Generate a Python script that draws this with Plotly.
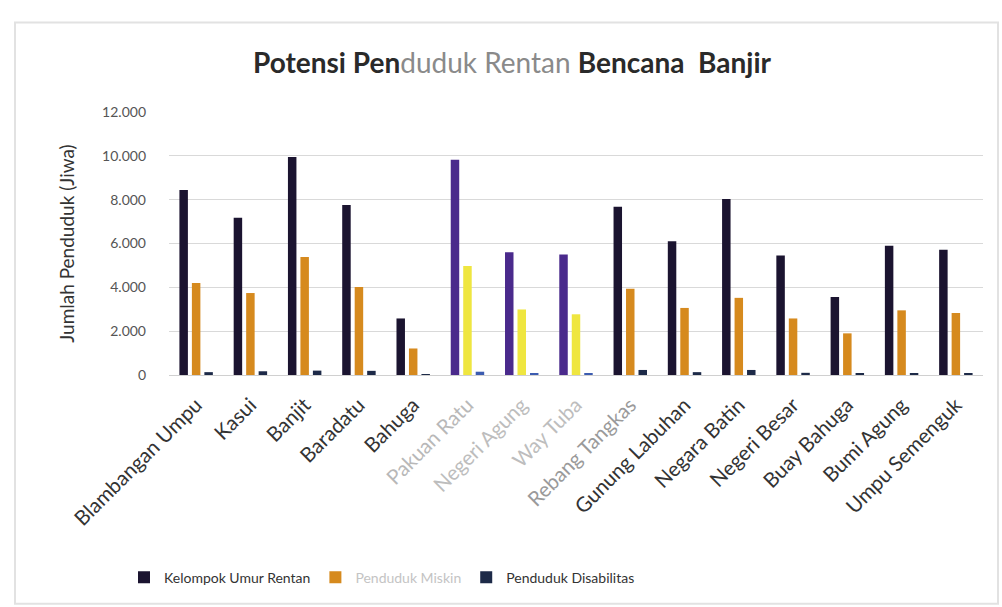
import plotly.graph_objects as go

# Kecamatan (district) names along the x axis
kecamatan = [
    "Blambangan Umpu", "Kasui", "Banjit", "Baradatu", "Bahuga",
    "Pakuan Ratu", "Negeri Agung", "Way Tuba", "Rebang Tangkas",
    "Gunung Labuhan", "Negara Batin", "Negeri Besar", "Buay Bahuga",
    "Bumi Agung", "Umpu Semenguk",
]

# Population counts (jiwa) per series
umur_rentan = [8440, 7170, 9950, 7760, 2580, 9820, 5600, 5500, 7680,
               6100, 8030, 5450, 3560, 5900, 5710]
miskin = [4200, 3740, 5380, 4020, 1210, 4970, 2990, 2770, 3940,
          3060, 3520, 2580, 1900, 2950, 2830]
disabilitas = [130, 170, 200, 190, 30, 150, 50, 60, 230,
               130, 230, 100, 80, 90, 70]

# y-axis ticks
y_ticks = [0, 2000, 4000, 6000, 8000, 10000, 12000]

# districts printed in a faded tone
faded = {"Pakuan Ratu": "#b8b8b8", "Negeri Agung": "#bdbdbd",
         "Way Tuba": "#bdbdbd", "Rebang Tangkas": "#9a9a9a"}
tinted = {"Pakuan Ratu", "Negeri Agung", "Way Tuba"}

c_dark = ["#4a2a8c" if k in tinted else "#1b1430" for k in kecamatan]
c_orange = ["#efe640" if k in tinted else "#d68a1e" for k in kecamatan]
c_navy = ["#3c5cb0" if k in tinted else "#1d2a48" for k in kecamatan]

tick_text = [
    f"<span style='color:{faded[k]}'>{k}</span>" if k in faded else k
    for k in kecamatan
]

fig = go.Figure()
fig.add_trace(go.Bar(x=kecamatan, y=umur_rentan, name="Kelompok Umur Rentan",
                     marker=dict(color=c_dark, line=dict(width=0))))
fig.add_trace(go.Bar(x=kecamatan, y=miskin,
                     name="<span style='color:#c4c4c4'>Penduduk Miskin</span>",
                     marker=dict(color=c_orange, line=dict(width=0))))
fig.add_trace(go.Bar(x=kecamatan, y=disabilitas, name="Penduduk Disabilitas",
                     marker=dict(color=c_navy, line=dict(width=0))))

# pixel -> paper helpers for the outer frame
L, R, T, B = 169, 983, 111.7, 375.0
def px(x):
    return (x - L) / (R - L)
def py(y):
    return (B - y) / (B - T)

fig.add_shape(type="rect", xref="paper", yref="paper",
              x0=px(15), x1=px(998), y0=py(604), y1=py(22),
              line=dict(color="#e2e2e2", width=2), fillcolor="rgba(0,0,0,0)",
              layer="below")

fig.update_layout(
    width=1002, height=607,
    margin=dict(l=L, r=1002 - R, t=T, b=607 - B),
    paper_bgcolor="white", plot_bgcolor="white",
    font=dict(family="Lato", color="#333333"),
    separators=",.",
    barmode="group", bargap=0.31, bargroupgap=0.32,
    title=dict(
        text=("<b>Potensi Pen</b><span style='color:#8a8a8a'>duduk Rentan</span>"
              " <b>Bencana  Banjir</b>"),
        x=px(512), xanchor="center", xref="paper",
        y=1 - 63 / 607, yanchor="middle",
        font=dict(family="Lato", size=28, color="#2a2a2a"),
    ),
    xaxis=dict(
        tickmode="array", tickvals=kecamatan, ticktext=tick_text,
        tickangle=-45, tickfont=dict(size=20.5, color="#333333"),
        ticklabelstandoff=9,
        showgrid=False, showline=True, linecolor="#d0d0d0", linewidth=1,
        ticks="",
    ),
    yaxis=dict(
        range=[0, 12000], tickvals=y_ticks, tickformat=",d",
        tickfont=dict(size=14, color="#555555"),
        ticklabelstandoff=22,
        showgrid=True, gridcolor="#d9d9d9", gridwidth=1,
        zeroline=False, showline=False, ticks="",
        title=dict(text="Jumlah Penduduk (Jiwa)",
                   font=dict(size=19, color="#333333"), standoff=22),
    ),
    legend=dict(
        orientation="h", x=px(124), xanchor="left",
        y=py(578), yanchor="middle",
        font=dict(size=14, color="#333333"),
        itemwidth=30, traceorder="normal",
    ),
)

fig.write_html("out.html")
